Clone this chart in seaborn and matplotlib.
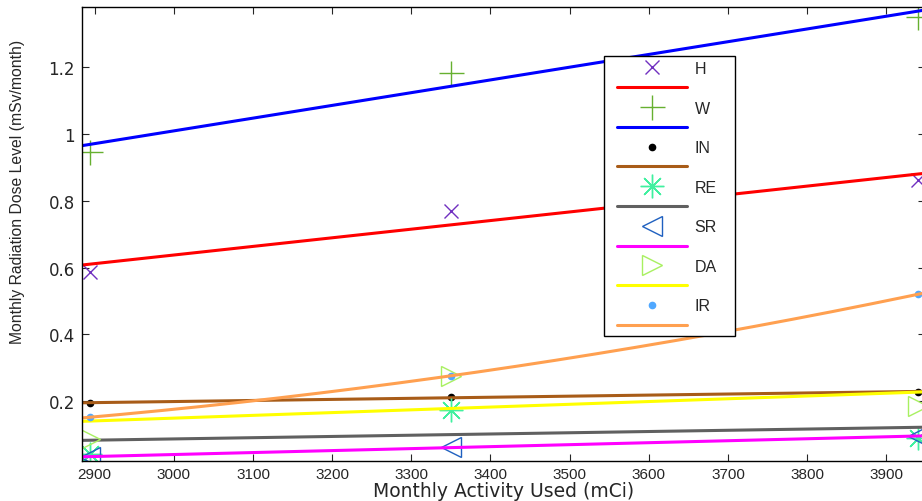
import numpy as np
import pandas as pd
import seaborn as sns
import matplotlib.pyplot as plt
from matplotlib.lines import Line2D
from matplotlib.patches import Rectangle

# Monthly activity used (mCi) and measured dose levels (mSv/month)
activity = [2894, 3350, 3940]
h_dose = [0.587, 0.769, 0.862]
w_dose = [0.946, 1.183, 1.350]
in_dose = [0.194, 0.213, 0.228]
re_dose = [0.042, 0.173, 0.090]
sr_dose = [0.033, 0.063, 0.095]
da_dose = [0.086, 0.275, 0.185]
ir_dose = [0.152, 0.276, 0.520]

labels = ["H", "W", "IN", "RE", "SR", "DA", "IR"]
doses = [h_dose, w_dose, in_dose, re_dose, sr_dose, da_dose, ir_dose]
fit_order = [1, 1, 1, 1, 1, 1, 2]

# marker style, marker colour, marker size, fit line colour
styles = [
    ("x", "#7030c0", 10, "#ff0000"),
    ("+", "#66b030", 18, "#0000ff"),
    (".", "#000000", 9, "#a85c18"),
    ((8, 2, 0), "#40f0a0", 17, "#606060"),
    ("<", "#1f60c0", 15, "#ff00ff"),
    (">", "#a8f060", 15, "#ffff00"),
    (".", "#50a8ff", 9, "#ffa050"),
]

sns.set_style("ticks")
plt.rcParams["font.family"] = ["Liberation Sans", "DejaVu Sans"]

fig = plt.figure(figsize=(9.22, 5.02), dpi=100)
ax = fig.add_axes([82 / 922, 40 / 502, 843 / 922, 454 / 502])

xlim = (2884, 3949)
x_fit = np.linspace(xlim[0], xlim[1], 300)

handles = []
legend_labels = []
for name, y, order, (mk, mcol, ms, lcol) in zip(labels, doses, fit_order, styles):
    face = "none" if mk in ("<", ">") else mcol
    ax.plot(activity, y, linestyle="none", marker=mk, color=mcol,
            markerfacecolor=face, markersize=ms, markeredgewidth=1.0)
    coef = np.polyfit(activity, y, order)
    fit = pd.DataFrame({"x": x_fit, "y": np.polyval(coef, x_fit)})
    sns.lineplot(data=fit, x="x", y="y", color=lcol, linewidth=2.2, ax=ax)
    handles.append(Line2D([], [], linestyle="none", marker=mk, color=mcol,
                          markerfacecolor=face, markersize=ms,
                          markeredgewidth=1.0))
    legend_labels.append(name)
    handles.append(Line2D([], [], color=lcol, linewidth=2.2))
    legend_labels.append("")

ax.set_xlim(*xlim)
ax.set_ylim(0.021, 1.380)
ax.set_xticks(range(2900, 4000, 100))
ax.set_yticks([0.2, 0.4, 0.6, 0.8, 1.0, 1.2])
ax.set_yticklabels(["0.2", "0.4", "0.6", "0.8", "1", "1.2"])
ax.tick_params(direction="in", length=5, width=0.8, top=True, right=True)
ax.tick_params(axis="x", labelsize=11, pad=4)
ax.tick_params(axis="y", pad=5)
for t in ax.get_yticklabels():
    t.set_fontfamily("DejaVu Sans")
    t.set_fontsize(12)
for sp in ax.spines.values():
    sp.set_linewidth(1.0)
    sp.set_color("black")

ax.set_xlabel("Monthly Activity Used (mCi)", fontsize=13.5,
              family="DejaVu Sans", labelpad=0)
ax.set_ylabel("Monthly Radiation Dose Level (mSv/month)", fontsize=11.3)
ax.yaxis.set_label_coords(-0.068, 0.595)

# legend box drawn separately so its padding matches the original
ax.add_patch(Rectangle((604 / 922, 1 - 337 / 502), 131 / 922, 280 / 502,
                       transform=fig.transFigure, facecolor="white",
                       edgecolor="black", linewidth=1.0, zorder=4.5))
leg = ax.legend(handles, legend_labels, loc="upper left",
                bbox_to_anchor=(617 / 922, 1 - 62 / 502),
                bbox_transform=fig.transFigure, fontsize=11.5,
                frameon=False, handlelength=4.4, handletextpad=0.45,
                labelspacing=0.3, borderpad=0, borderaxespad=0)

fig.savefig("out.png", dpi=100)
